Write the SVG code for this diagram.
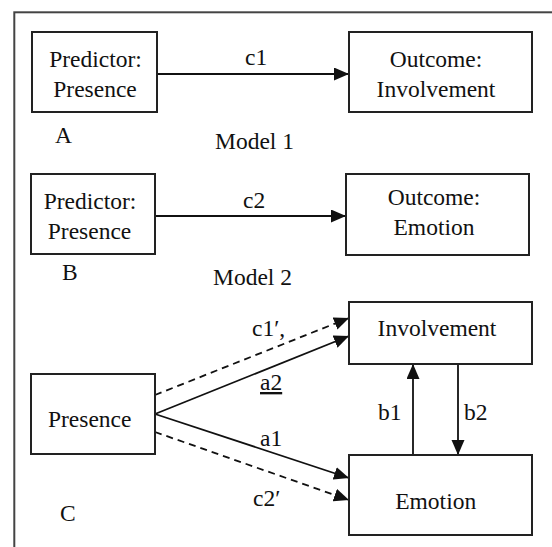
<svg xmlns="http://www.w3.org/2000/svg" width="552" height="547" viewBox="0 0 552 547">
<style>
.box { fill: #fff; stroke: #222; stroke-width: 2; }
.ln { stroke: #111; stroke-width: 1.8; fill: none; }
.dash { stroke-dasharray: 7 5; }
</style>
<defs>
<marker id="ah" markerUnits="userSpaceOnUse" markerWidth="16" markerHeight="14" refX="15" refY="6.5" orient="auto">
<path d="M0,0 L15,6.5 L0,13 z" fill="#111" stroke="none"/>
</marker>
</defs>
<rect x="14.3" y="12.3" width="700" height="700" fill="#fff" stroke="#444" stroke-width="2"/>

<g id="connectors">
<line class="ln" x1="157" y1="74" x2="349" y2="74" marker-end="url(#ah)"/>
<line class="ln" x1="155" y1="216" x2="346" y2="216" marker-end="url(#ah)"/>
<line class="ln dash" x1="155" y1="395" x2="349" y2="318" marker-end="url(#ah)"/>
<line class="ln" x1="155" y1="414" x2="349" y2="336" marker-end="url(#ah)"/>
<line class="ln" x1="155" y1="414" x2="349" y2="478" marker-end="url(#ah)"/>
<line class="ln dash" x1="155" y1="432" x2="349" y2="500" marker-end="url(#ah)"/>
<line class="ln" x1="413" y1="455" x2="413" y2="364" marker-end="url(#ah)"/>
<line class="ln" x1="458" y1="364" x2="458" y2="455" marker-end="url(#ah)"/>
<g font-family="Liberation Serif" font-size="23.5" fill="#111">
<text x="245" y="65">c1</text>
<text x="243" y="208">c2</text>
<text x="252" y="336">c1′,</text>
<text x="260" y="390" text-decoration="underline">a2</text>
<text x="260" y="446">a1</text>
<text x="253" y="506">c2′</text>
<text x="378" y="420">b1</text>
<text x="464" y="420">b2</text>
</g>
</g>

<g font-family="Liberation Serif" font-size="23.5" fill="#111" text-anchor="middle">
<g id="nodeA-predictor">
<rect class="box" x="32" y="32" width="125" height="80"/>
<text x="95.5" y="67">Predictor:</text>
<text x="95" y="97">Presence</text>
</g>
<g id="nodeA-outcome">
<rect class="box" x="349" y="32" width="183" height="80"/>
<text x="436" y="67">Outcome:</text>
<text x="436" y="97">Involvement</text>
</g>
<g id="nodeB-predictor">
<rect class="box" x="31" y="174" width="124" height="80"/>
<text x="90" y="209">Predictor:</text>
<text x="89.5" y="239">Presence</text>
</g>
<g id="nodeB-outcome">
<rect class="box" x="346" y="174" width="183" height="81"/>
<text x="434" y="205">Outcome:</text>
<text x="434" y="235">Emotion</text>
</g>
<g id="nodeC-presence">
<rect class="box" x="31" y="374" width="124" height="80"/>
<text x="89.7" y="427">Presence</text>
</g>
<g id="nodeC-involvement">
<rect class="box" x="349" y="302" width="183" height="62"/>
<text x="437" y="336">Involvement</text>
</g>
<g id="nodeC-emotion">
<rect class="box" x="349" y="455" width="183" height="80"/>
<text x="435.7" y="509">Emotion</text>
</g>
</g>

<g id="labels" font-family="Liberation Serif" font-size="23.5" fill="#111">
<text x="55" y="143">A</text>
<text x="215" y="149">Model 1</text>
<text x="62" y="280">B</text>
<text x="213" y="285">Model 2</text>
<text x="60" y="521">C</text>
</g>
</svg>
